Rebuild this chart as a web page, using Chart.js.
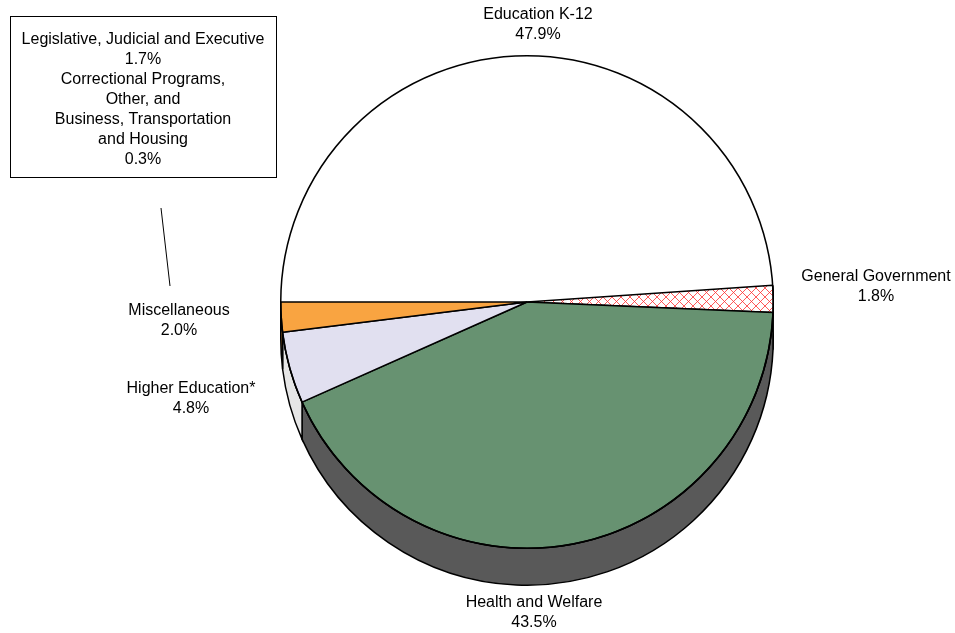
<!DOCTYPE html>
<html>
<head>
<meta charset="utf-8">
<script src="https://cdn.jsdelivr.net/npm/chart.js@4"></script>
<style>
  body { margin: 0; background: #fff; }
  #wrap { width: 955px; height: 633px; position: relative; }
</style>
</head>
<body>
<div id="wrap"><canvas id="budget"></canvas></div>
<script>
// slices go clockwise, starting at 9 o'clock
const categories = [
    'Legislative, Judicial and Executive',
    'Correctional Programs, Other, and Business, Transportation and Housing',
    'Education K-12',
    'General Government',
    'Health and Welfare',
    'Higher Education*',
    'Miscellaneous'
];
const shares = [1.7, 0.3, 47.9, 1.8, 43.5, 4.8, 2.0];
const labelLines = [
    ['Legislative, Judicial and Executive'],
    ['Correctional Programs,', 'Other, and', 'Business, Transportation', 'and Housing'],
    ['Education K-12'],
    ['General Government'],
    ['Health and Welfare'],
    ['Higher Education*'],
    ['Miscellaneous']
];

// red cross hatch for General Government
function hatch() {
    const c = document.createElement('canvas');
    c.width = 9; c.height = 9;
    const g = c.getContext('2d');
    g.fillStyle = '#fff';
    g.fillRect(0, 0, 9, 9);
    g.strokeStyle = '#ff3030';
    g.lineWidth = 0.8;
    g.beginPath();
    g.moveTo(0, 0); g.lineTo(9, 9);
    g.moveTo(9, 0); g.lineTo(0, 9);
    g.stroke();
    return g.createPattern(c, 'repeat');
}

const fills = ['#ffffff', '#ffffff', '#ffffff', hatch(), '#679271', '#e1e0f0', '#f9a441'];
const edges = ['#ffffff', '#ffffff', '#ffffff', '#000', '#000', '#000', '#000'];
const sides = [null, null, null, '#e6e6e6', '#595959', '#e6e6e6', '#c98432'];
const depth = 37;

const depthPlugin = {
    id: 'depth',
    beforeDatasetsDraw(chart) {
        const ctx = chart.ctx;
        chart.getDatasetMeta(0).data.forEach((arc, i) => {
            if (!sides[i]) return;
            const {x, y, startAngle, endAngle, outerRadius: r} = arc.getProps(['x', 'y', 'startAngle', 'endAngle', 'outerRadius'], true);
            ctx.save();
            ctx.beginPath();
            ctx.moveTo(x + r * Math.cos(startAngle), y + r * Math.sin(startAngle));
            ctx.lineTo(x + r * Math.cos(startAngle), y + depth + r * Math.sin(startAngle));
            ctx.arc(x, y + depth, r, startAngle, endAngle);
            ctx.lineTo(x + r * Math.cos(endAngle), y + r * Math.sin(endAngle));
            ctx.arc(x, y, r, endAngle, startAngle, true);
            ctx.closePath();
            ctx.fillStyle = sides[i];
            ctx.fill();
            ctx.lineWidth = 1.5;
            ctx.strokeStyle = '#000';
            ctx.stroke();
            ctx.restore();
        });
    },
    afterDatasetsDraw(chart) {
        const ctx = chart.ctx;
        const arc = chart.getDatasetMeta(0).data[0];
        ctx.save();
        ctx.beginPath();
        ctx.arc(arc.x, arc.y, arc.outerRadius, 0, Math.PI * 2);
        ctx.lineWidth = 1.5;
        ctx.strokeStyle = '#000';
        ctx.stroke();
        ctx.restore();
    }
};

const labelPlugin = {
    id: 'sliceLabels',
    afterDraw(chart) {
        const ctx = chart.ctx;
        ctx.save();
        ctx.font = '16px "Liberation Sans", Arial, sans-serif';
        ctx.fillStyle = '#000';
        ctx.textAlign = 'center';
        ctx.textBaseline = 'middle';
        const put = (lines, cx, top) => {
            lines.forEach((t, k) => ctx.fillText(t, cx, top + k * 20));
        };
        const pct = i => shares[i].toFixed(1) + '%';
        put(labelLines[2].concat(pct(2)), 538, 15);
        put(labelLines[3].concat(pct(3)), 876, 277);
        put(labelLines[4].concat(pct(4)), 534, 603);
        put(labelLines[5].concat(pct(5)), 191, 389);
        put(labelLines[6].concat(pct(6)), 179, 311);

        // boxed label for the two small slices
        ctx.lineWidth = 1;
        ctx.strokeStyle = '#000';
        ctx.strokeRect(10.5, 16.5, 266, 161);
        put(labelLines[0].concat(pct(0), labelLines[1], pct(1)), 143, 40);
        ctx.beginPath();
        ctx.moveTo(161, 208);
        ctx.lineTo(170, 286);
        ctx.stroke();
        ctx.restore();
    }
};

new Chart(document.getElementById('budget'), {
    type: 'pie',
    data: {
        labels: categories,
        datasets: [{
            data: shares,
            backgroundColor: fills,
            borderColor: edges,
            borderWidth: 1.5
        }]
    },
    options: {
        responsive: true,
        maintainAspectRatio: false,
        animation: false,
        rotation: -90,
        layout: {
            padding: { left: 280, right: 181, top: 55, bottom: 84 }
        },
        plugins: {
            legend: { display: false },
            tooltip: { enabled: false }
        }
    },
    plugins: [depthPlugin, labelPlugin]
});
</script>
</body>
</html>
